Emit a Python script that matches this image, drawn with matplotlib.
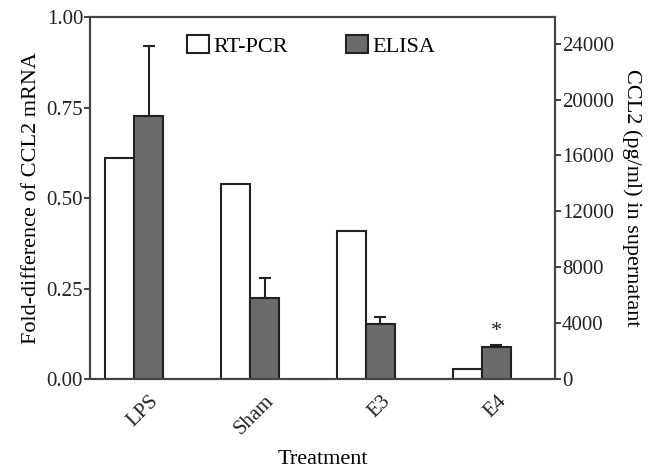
import numpy as np
from matplotlib import pyplot as plt

treatments = ["LPS", "Sham", "E3", "E4"]
rtpcr = [0.61, 0.54, 0.41, 0.028]
elisa = [18850, 5800, 3950, 2300]
elisa_err = [4950, 1430, 500, 150]

plt.rcParams['font.family'] = ['Liberation Serif', 'DejaVu Serif']

fig = plt.figure(figsize=(6.59, 4.74), dpi=100)
ax = fig.add_axes([0.1366, 0.2004, 0.7056, 0.7636])
ax2 = ax.twinx()

x = np.arange(len(treatments))
w = 0.25
edge = "#222222"

ax.bar(x - w / 2, rtpcr, w, color="white", edgecolor=edge, linewidth=1.5, label="RT-PCR")
ax2.bar(x + w / 2, elisa, w, color="#6b6b6b", edgecolor=edge, linewidth=1.5, label="ELISA",
        yerr=[np.zeros(len(elisa)), elisa_err], capsize=4.5,
        error_kw=dict(ecolor=edge, elinewidth=1.5, capthick=1.5))
ax2.text(x[3] + w / 2, elisa[3] + elisa_err[3] + 300, "*", ha="center", va="bottom", fontsize=16, color=edge)

ax.set_xlim(-0.38, 3.63)
ax.set_ylim(0, 1.0)
ax.set_yticks([0, 0.25, 0.5, 0.75, 1.0])
ax.set_yticklabels(["0.00", "0.25", "0.50", "0.75", "1.00"])
ax2.set_ylim(0, 25900)
ax2.set_yticks(range(0, 24001, 4000))

ax.set_xticks(x + w / 2)
ax.set_xticklabels(treatments, rotation=45, ha="right", rotation_mode="anchor")
ax.tick_params(axis="x", length=0, pad=9, labelsize=15, colors="#222222")
ax.tick_params(axis="y", length=4, width=1.2, labelsize=15, pad=1, colors="#222222")
ax2.tick_params(axis="y", length=4, width=1.2, labelsize=15, pad=1, colors="#222222")

for a in (ax, ax2):
    for s in a.spines.values():
        s.set_linewidth(1.5)
        s.set_color("#444444")

ax.set_xlabel("Treatment", fontsize=16, labelpad=8)
ax.set_ylabel("Fold-difference of CCL2 mRNA", fontsize=16, labelpad=4)
ax2.set_ylabel("CCL2 (pg/ml) in supernatant", fontsize=16, rotation=-90, labelpad=20)

h1, l1 = ax.get_legend_handles_labels()
h2, l2 = ax2.get_legend_handles_labels()
fig.legend(h1 + h2, l1 + l2, ncol=2, frameon=False, fontsize=16,
           loc="upper left", bbox_to_anchor=(0.253, 0.968),
           handlelength=1.0, handleheight=0.85, handletextpad=0.2, columnspacing=2.6)

plt.savefig("out.png", dpi=100)
